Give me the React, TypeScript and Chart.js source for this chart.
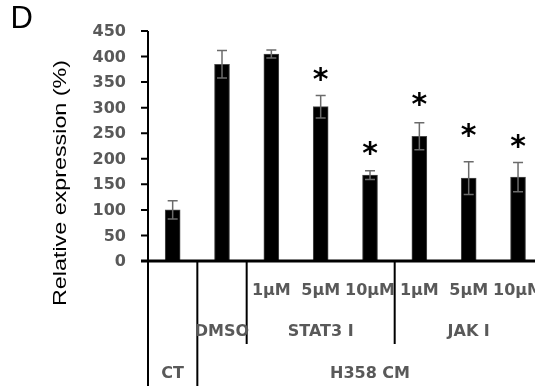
import { useEffect, useRef } from 'react';
import { Chart, registerables } from 'chart.js';

Chart.register(...registerables);

// ---- data ----
const categories = ['CT', 'DMSO', 'STAT3 1µM', 'STAT3 5µM', 'STAT3 10µM', 'JAK 1µM', 'JAK 5µM', 'JAK 10µM'];
const values = [100, 385, 405, 302, 168, 244, 162, 164];
const errors = [18, 27, 8, 22, 8.5, 26.5, 32, 28.5];
const starLevels: (number | null)[] = [null, null, null, 365, 220, 316, 256, 234];
const yTicks = [0, 50, 100, 150, 200, 250, 300, 350, 400, 450];
const level1Labels = ['', '', '1µM', '5µM', '10µM', '1µM', '5µM', '10µM'];
const level2Groups = [
  { label: 'DMSO', from: 1, to: 1 },
  { label: 'STAT3 I', from: 2, to: 4 },
  { label: 'JAK I', from: 5, to: 7 },
];
const level3Groups = [
  { label: 'CT', from: 0, to: 0 },
  { label: 'H358 CM', from: 1, to: 7 },
];
const yTitle = 'Relative expression (%)';
const panelLetter = 'D';

const CANVAS_W = 560;
const CANVAS_H = 386;

const drawPlugin = {
  id: 'customAxes',
  afterDatasetsDraw(chart: any) {
    const ctx: CanvasRenderingContext2D = chart.ctx;
    const xs = chart.scales.x;
    const ys = chart.scales.y;
    const area = chart.chartArea;
    const meta = chart.getDatasetMeta(0);
    const catW = xs.getPixelForValue(1) - xs.getPixelForValue(0);
    const left = (i: number) => xs.getPixelForValue(i) - catW / 2;
    const right = (i: number) => xs.getPixelForValue(i) + catW / 2;
    const y0 = ys.getPixelForValue(0);

    ctx.save();
    // error bars
    ctx.strokeStyle = '#6b6b6b';
    ctx.lineWidth = 1.5;
    meta.data.forEach((bar: any, i: number) => {
      const x = bar.x;
      const yt = ys.getPixelForValue(values[i] + errors[i]);
      const yb = ys.getPixelForValue(values[i] - errors[i]);
      ctx.beginPath();
      ctx.moveTo(x, yt);
      ctx.lineTo(x, yb);
      ctx.moveTo(x - 5, yt);
      ctx.lineTo(x + 5, yt);
      ctx.moveTo(x - 5, yb);
      ctx.lineTo(x + 5, yb);
      ctx.stroke();
    });

    // stars
    ctx.fillStyle = '#000';
    ctx.font = 'bold 30px "DejaVu Sans"';
    ctx.textAlign = 'center';
    ctx.textBaseline = 'alphabetic';
    const m = ctx.measureText('*');
    const asc = m.actualBoundingBoxAscent;
    const desc = m.actualBoundingBoxDescent;
    starLevels.forEach((s, i) => {
      if (s == null) return;
      const x = meta.data[i].x;
      const yc = ys.getPixelForValue(s);
      ctx.fillText('*', x, yc + (asc - desc) / 2);
    });

    // axes
    ctx.strokeStyle = '#000';
    ctx.lineWidth = 2;
    ctx.beginPath();
    ctx.moveTo(area.left, ys.getPixelForValue(yTicks[yTicks.length - 1]));
    ctx.lineTo(area.left, y0);
    yTicks.forEach((t) => {
      const y = ys.getPixelForValue(t);
      ctx.moveTo(area.left - 7, y);
      ctx.lineTo(area.left, y);
    });
    ctx.stroke();
    ctx.lineWidth = 3;
    ctx.beginPath();
    ctx.moveTo(area.left - 7, y0);
    ctx.lineTo(chart.width, y0);
    ctx.stroke();

    // separators
    ctx.lineWidth = 2;
    ctx.beginPath();
    const full = new Set<number>();
    level3Groups.forEach((g) => {
      full.add(left(g.from));
      full.add(right(g.to));
    });
    full.forEach((x) => {
      ctx.moveTo(x, y0);
      ctx.lineTo(x, chart.height);
    });
    level2Groups.forEach((g) => {
      [left(g.from), right(g.to)].forEach((x) => {
        if ([...full].some((f) => Math.abs(f - x) < 1)) return;
        ctx.moveTo(x, y0);
        ctx.lineTo(x, 344);
      });
    });
    ctx.stroke();

    // y tick labels
    ctx.fillStyle = '#595959';
    ctx.font = 'bold 16px "DejaVu Sans"';
    ctx.textAlign = 'right';
    ctx.textBaseline = 'middle';
    yTicks.forEach((t) => {
      ctx.fillText(String(t), area.left - 22, ys.getPixelForValue(t) + 1);
    });

    // x labels
    ctx.textAlign = 'center';
    level1Labels.forEach((l, i) => {
      if (l) ctx.fillText(l, xs.getPixelForValue(i), 291);
    });
    level2Groups.forEach((g) => {
      ctx.fillText(g.label, (left(g.from) + right(g.to)) / 2, 332);
    });
    level3Groups.forEach((g) => {
      ctx.fillText(g.label, (left(g.from) + right(g.to)) / 2, 374);
    });

    // y title
    ctx.fillStyle = '#000';
    ctx.font = '19px "Liberation Sans"';
    ctx.textAlign = 'center';
    ctx.textBaseline = 'alphabetic';
    const tw = ctx.measureText(yTitle).width;
    ctx.save();
    ctx.translate(66, 183);
    ctx.rotate(-Math.PI / 2);
    ctx.scale(246 / tw, 1);
    ctx.fillText(yTitle, 0, 0);
    ctx.restore();

    // panel letter
    ctx.font = '31px "Liberation Sans"';
    ctx.textAlign = 'left';
    ctx.fillText(panelLetter, 10.5, 28);

    ctx.restore();
  },
};

export default function App() {
  const ref = useRef<HTMLCanvasElement>(null);
  useEffect(() => {
    if (!ref.current) return;
    const chart = new Chart(ref.current, {
      type: 'bar',
      data: {
        labels: categories,
        datasets: [
          {
            data: values,
            backgroundColor: '#000',
            borderColor: '#4a4a4a',
            borderWidth: 1,
            barThickness: 15,
          },
        ],
      },
      options: {
        animation: false,
        responsive: false,
        maintainAspectRatio: false,
        devicePixelRatio: 1,
        layout: { padding: { left: 148, top: 31, right: CANVAS_W - 148 - 394.7, bottom: CANVAS_H - 261 } },
        plugins: { legend: { display: false }, tooltip: { enabled: false }, title: { display: false } },
        scales: {
          x: { type: 'category', offset: true, display: false, grid: { display: false } },
          y: { min: 0, max: 450, display: false, grid: { display: false } },
        },
      },
      plugins: [drawPlugin],
    });
    return () => chart.destroy();
  }, []);
  return (
    <div style={{ position: 'fixed', left: 0, top: 0, width: 535, height: 386, overflow: 'hidden', background: '#fff' }}>
      <canvas ref={ref} width={CANVAS_W} height={CANVAS_H} style={{ display: 'block' }} />
    </div>
  );
}
